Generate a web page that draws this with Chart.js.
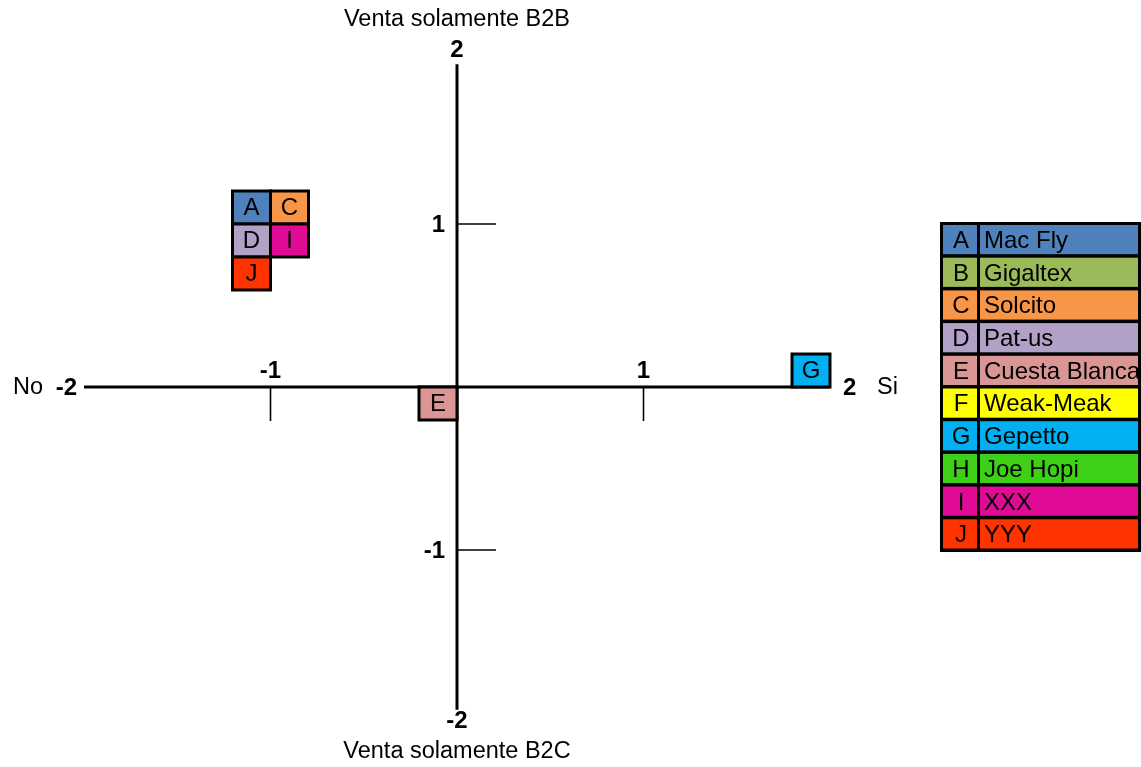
<!DOCTYPE html>
<html lang="es">
<head>
<meta charset="utf-8">
<title>Posicionamiento de marcas</title>
<script src="https://cdn.jsdelivr.net/npm/chart.js@4/dist/chart.umd.min.js"></script>
<style>
  html, body { margin: 0; padding: 0; background: #ffffff; }
  canvas { display: block; }
</style>
</head>
<body>
<canvas id="chart" width="1141" height="767"></canvas>
<script>
// Companies shown in the positioning map
const letters = ['A', 'B', 'C', 'D', 'E', 'F', 'G', 'H', 'I', 'J'];
const names = ['Mac Fly', 'Gigaltex', 'Solcito', 'Pat-us', 'Cuesta Blanca', 'Weak-Meak', 'Gepetto', 'Joe Hopi', 'XXX', 'YYY'];
const colors = ['#4F81BD', '#9BBB59', '#F79646', '#B2A1C7', '#D99694', '#FFFF00', '#00B0F0', '#3CD117', '#E00B95', '#FF3300'];

// Position of each company (null = not placed on the map)
const xValues = [-1, null, -1, -1, 0, null, 2, null, -1, -1];
const yValues = [1, null, 1, 1, 0, null, 0, null, 1, 1];

// Axis ticks and captions
const xTicks = [-2, -1, 1, 2];
const yTicks = [-2, -1, 1, 2];
const xAxisNames = ['No', 'Si'];
const yAxisNames = ['Venta solamente B2B', 'Venta solamente B2C'];

// Where each label box sits relative to its point (columns, rows)
const boxPlacement = {
  A: [-1, -1], C: [0, -1], D: [-1, 0], I: [0, 0], J: [-1, 1],
  E: [-1, 0], G: [-1, -1]
};

const FONT = '"Liberation Sans", Arial, sans-serif';

const quadrantPlugin = {
  id: 'quadrant',
  afterDatasetsDraw(chart) {
    const ctx = chart.ctx;
    const xs = chart.scales.x, ys = chart.scales.y;
    const x0 = xs.getPixelForValue(0), y0 = ys.getPixelForValue(0);
    ctx.save();
    ctx.strokeStyle = '#000';
    ctx.fillStyle = '#000';

    // main axes
    ctx.lineWidth = 3;
    ctx.beginPath();
    ctx.moveTo(xs.getPixelForValue(-2), y0);
    ctx.lineTo(xs.getPixelForValue(2), y0);
    ctx.moveTo(x0, ys.getPixelForValue(1.98));
    ctx.lineTo(x0, ys.getPixelForValue(-1.98));
    ctx.stroke();

    // tick marks at +-1
    ctx.lineWidth = 1.6;
    ctx.beginPath();
    [-1, 1].forEach(v => {
      const px = xs.getPixelForValue(v);
      ctx.moveTo(px, y0);
      ctx.lineTo(px, y0 + 34);
      const py = ys.getPixelForValue(v);
      ctx.moveTo(x0, py);
      ctx.lineTo(x0 + 39, py);
    });
    ctx.stroke();

    // tick labels
    ctx.font = 'bold 24px ' + FONT;
    ctx.textBaseline = 'middle';
    xTicks.forEach(v => {
      const px = xs.getPixelForValue(v);
      if (v === -2) { ctx.textAlign = 'right'; ctx.fillText(String(v), px - 7, y0 + 1); }
      else if (v === 2) { ctx.textAlign = 'left'; ctx.fillText(String(v), px + 13, y0 + 1); }
      else { ctx.textAlign = 'center'; ctx.fillText(String(v), px, y0 - 16); }
    });
    yTicks.forEach(v => {
      const py = ys.getPixelForValue(v);
      if (v === 2) { ctx.textAlign = 'center'; ctx.fillText(String(v), x0, py - 11); }
      else if (v === -2) { ctx.textAlign = 'center'; ctx.fillText(String(v), x0, py + 8); }
      else { ctx.textAlign = 'right'; ctx.fillText(String(v), x0 - 12, py + 1); }
    });

    // axis captions
    ctx.font = '23.5px ' + FONT;
    ctx.textAlign = 'right';
    ctx.fillText(xAxisNames[0], 43, y0 + 1);
    ctx.textAlign = 'left';
    ctx.fillText(xAxisNames[1], 877, y0 + 1);
    ctx.textAlign = 'center';
    ctx.fillText(yAxisNames[0], x0, 20);
    ctx.fillText(yAxisNames[1], x0, 752);

    // label boxes for each placed company
    const bw = 38, bh = 33;
    letters.forEach((letter, i) => {
      if (xValues[i] === null || yValues[i] === null) return;
      const px = xs.getPixelForValue(xValues[i]);
      const py = ys.getPixelForValue(yValues[i]);
      const pl = boxPlacement[letter] || [0, 0];
      const bx = px + pl[0] * bw, by = py + pl[1] * bh;
      ctx.fillStyle = colors[i];
      ctx.fillRect(bx, by, bw, bh);
      ctx.lineWidth = 3;
      ctx.strokeStyle = '#000';
      ctx.strokeRect(bx, by, bw, bh);
      ctx.fillStyle = '#000';
      ctx.font = '24px ' + FONT;
      ctx.textAlign = 'center';
      ctx.fillText(letter, bx + bw / 2, by + bh / 2 + 1);
    });

    // legend table
    const lx = 940, ly = 222, lw = 201, rowH = 32.7;
    ctx.fillStyle = '#000';
    ctx.fillRect(lx, ly, lw, rowH * letters.length + 3);
    letters.forEach((letter, i) => {
      const ry = ly + 3 + i * rowH;
      ctx.fillStyle = colors[i];
      ctx.fillRect(lx + 3, ry, 34, rowH - 3.5);
      ctx.fillRect(lx + 40, ry, lw - 43, rowH - 3.5);
    });
    ctx.save();
    ctx.beginPath();
    ctx.rect(lx, ly, lw - 1, rowH * letters.length + 3);
    ctx.clip();
    letters.forEach((letter, i) => {
      const ry = ly + 3 + i * rowH;
      ctx.fillStyle = '#000';
      ctx.font = '24px ' + FONT;
      ctx.textAlign = 'center';
      ctx.fillText(letter, lx + 21, ry + rowH / 2);
      ctx.textAlign = 'left';
      ctx.fillText(names[i], lx + 44, ry + rowH / 2);
    });
    ctx.restore();
    ctx.restore();
  }
};

const datasets = letters.map((letter, i) => ({
  label: letter + ' ' + names[i],
  data: (xValues[i] === null) ? [] : [{ x: xValues[i], y: yValues[i] }],
  backgroundColor: colors[i],
  pointRadius: 0,
  pointHoverRadius: 0
}));

new Chart(document.getElementById('chart'), {
  type: 'scatter',
  data: { datasets },
  options: {
    responsive: false,
    animation: false,
    events: [],
    layout: { padding: { left: 84, right: 311, top: 61, bottom: 54 } },
    plugins: { legend: { display: false }, tooltip: { enabled: false } },
    scales: {
      x: { type: 'linear', min: -2, max: 2, display: false },
      y: { type: 'linear', min: -2, max: 2, display: false }
    }
  },
  plugins: [quadrantPlugin]
});
</script>
</body>
</html>
